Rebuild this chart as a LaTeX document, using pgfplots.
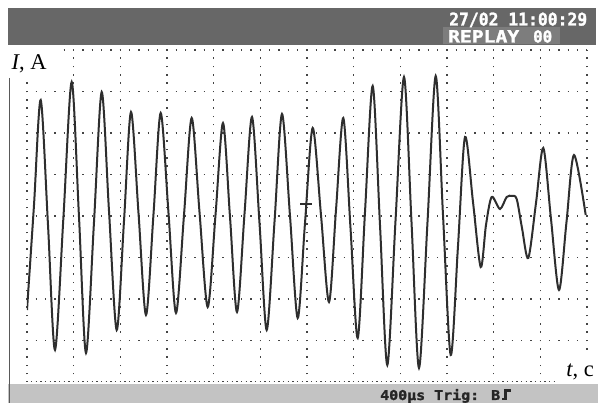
\documentclass[border=0pt]{standalone}
\usepackage{graphicx}
\usepackage{pgfplots}
\pgfplotsset{compat=1.18}
\usepackage{pgfplotstable}
\usepackage{fontspec}
\setmainfont{Liberation Serif}
\newfontfamily\scopefont[BoldFeatures={FakeBold=1.5}]{DejaVu Sans Mono}
\definecolor{barDark}{HTML}{676767}
\definecolor{barLight}{HTML}{C3C3C3}
\definecolor{replayBox}{HTML}{7D7D7D}
\definecolor{trace}{HTML}{2E2E2E}
\definecolor{dots}{HTML}{444444}
% trace: x pixel, y pixel (from top)
\pgfplotstableread{
px py
27 310
34 205
40.7 100
48 225
55 350
63.5 216
71.7 82
79 217
86 353
94 222
101.7 92
109 211
116.7 330
124 221
131 112
138.5 213
146 315
153.5 214
160.7 113
168.5 213
176 313
184 215
191.7 118
199.5 212
207.7 307
215.5 215
223 123
230 217
237 312
244.5 214
252 117
259.5 223
266.7 330
274.5 222
282 114
290 216
297.7 318
305 223
312.7 128
321 215
329 302
336 210
343.3 118
350.5 228
357.7 338
365 212
372.7 86
380 225
387.3 365
395.5 221
404 77
411.5 222
419 368
427.5 222
435.7 76
443 215
450.7 355
458 246
465 137
473 202
480.7 267
486 225
491.7 197
500 209
506.7 197
512 196
516.7 199
522 228
528.3 258
536 203
543.3 148
551 219
559 290
566.5 222
574 155
585.7 215
}\tracedata
\begin{document}
\begin{tikzpicture}
\useasboundingbox (0pt,0pt) rectangle (598pt,-403pt);
\fill[white] (0pt,0pt) rectangle (598pt,-403pt);
\fill[barDark] (8pt,-8pt) rectangle (596pt,-45pt);
\fill[replayBox] (443pt,-27.5pt) rectangle (560pt,-44pt);
\fill[barLight] (8pt,-384pt) rectangle (598pt,-403pt);
\begin{axis}[
  at={(27pt,-382pt)}, anchor=south west,
  scale only axis, width=560pt, height=332pt,
  xmin=0, xmax=12, ymin=-4, ymax=4,
  xtick={0,...,12}, ytick={-3,...,4},
  xticklabels={}, yticklabels={},
  major tick length=0pt,
  axis line style={draw=none},
  grid=major,
  x grid style={dots, line width=1.6pt, dash pattern=on 1.6pt off 6.7pt, dash phase=0.8pt},
  y grid style={dots, line width=1.6pt, dash pattern=on 1.6pt off 7.733pt, dash phase=0.8pt},
]
\draw[dots, line width=1.5pt, dash pattern=on 1.5pt off 3.167pt, dash phase=0.75pt]
  (axis cs:0,-4) -- (axis cs:12,-4);
\addplot[trace, line width=2pt, smooth, tension=0.5, no marks]
  table[x expr={(\thisrow{px}-27)/46.6667}, y expr={(216-\thisrow{py})/41.5}] {\tracedata};
\end{axis}
% cover for the axis labels
\fill[white] (8pt,-45pt) rectangle (62pt,-78pt);
\fill[white] (558pt,-356pt) rectangle (598pt,-384pt);
\draw[black!65, line width=1.3pt] (9.5pt,-78pt) -- (9.5pt,-403pt);
% trigger marker
\draw[trace, line width=1.2pt] (300pt,-204pt) -- (312pt,-204pt) (306pt,-204pt) -- (306pt,-214pt);
\node[anchor=base west, inner sep=0pt] at (11.5pt,-70pt)
  {\fontsize{22.5}{22.5}\selectfont\textit{I}, A};
\node[anchor=base east, inner sep=0pt] at (594pt,-377pt)
  {\fontsize{22.5}{22.5}\selectfont\textit{t}, c};
% screen texts
\node[anchor=base west, inner sep=0pt, text=white] at (449pt,-25.5pt)
  {\raisebox{0pt}[\height][0pt]{\resizebox{138pt}{13pt}{\scopefont\bfseries 27/02 11:00:29}}};
\node[anchor=base west, inner sep=0pt, text=white] at (448pt,-42.5pt)
  {\resizebox{71pt}{12.3pt}{\scopefont\bfseries REPLAY}};
\node[anchor=base west, inner sep=0pt, text=white] at (533pt,-42.5pt)
  {\resizebox{19pt}{12.3pt}{\scopefont\bfseries 00}};
\node[anchor=base west, inner sep=0pt, text=black!85] at (380pt,-400pt)
  {\raisebox{0pt}[\height][0pt]{\resizebox{120pt}{11pt}{\scopefont\bfseries 400µs Trig: B}}};
\draw[black!85, line width=2.4pt] (502pt,-399pt) -- (505.5pt,-399pt) -- (505.5pt,-390.5pt) -- (511pt,-390.5pt);
\end{tikzpicture}
\end{document}
